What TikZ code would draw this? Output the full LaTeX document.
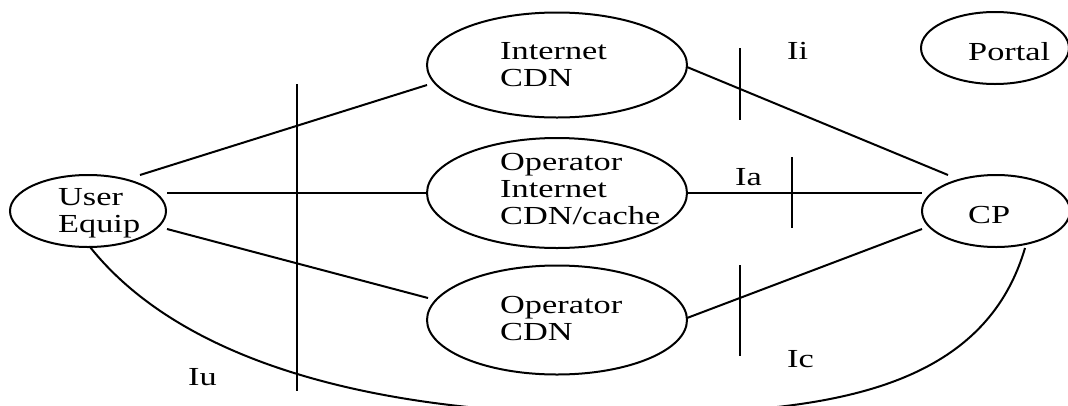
\documentclass[tikz,border=0pt]{standalone}
\usepackage{fontspec}
\setmainfont{Liberation Serif}[FakeStretch=1.32]
\usetikzlibrary{shapes.geometric}
\newcommand\txtlines[1]{\begin{tabular}[t]{@{}l@{}}#1\end{tabular}}
\begin{document}
\begin{tikzpicture}[x=1pt,y=-1pt,
  blob/.style={draw, ellipse, inner sep=0pt, line width=2pt},
  lbl/.style={inner sep=0pt, anchor=base west, font=\fontsize{26}{27}\selectfont},
  wire/.style={line width=2pt},
]
\fill[white] (0,0) rectangle (1068,405);
\useasboundingbox (0,0) rectangle (1068,405);
\clip (0,0) rectangle (1068,405);

% network elements
\node[blob, minimum width=156pt, minimum height=72pt]  (ue)     at (88,211)  {};
\node[blob, minimum width=260pt, minimum height=105pt] (icdn)   at (557,65)  {};
\node[blob, minimum width=260pt, minimum height=110pt] (oic)    at (557,193) {};
\node[blob, minimum width=260pt, minimum height=109pt] (ocdn)   at (557,320) {};
\node[blob, minimum width=148pt, minimum height=72pt]  (portal) at (995,48)  {};
\node[blob, minimum width=148pt, minimum height=72pt]  (cp)     at (996,211) {};

% element names
\node[lbl] (ue-t)     at (58,205)  {\txtlines{User\\Equip}};
\node[lbl] (icdn-t)   at (500,59)  {\txtlines{Internet\\CDN}};
\node[lbl] (oic-t)    at (500,170) {\txtlines{Operator\\Internet\\CDN/cache}};
\node[lbl] (ocdn-t)   at (500,313) {\txtlines{Operator\\CDN}};
\node[lbl] (portal-t) at (968,60)  {Portal};
\node[lbl] (cp-t)     at (968,223) {CP};

% links
\draw[wire] ([shift={(52,-36)}]ue.center) -- ([shift={(-130,20)}]icdn.center);
\draw[wire] ([shift={(79,-18)}]ue.center) -- ([shift={(-130,0)}]oic.center);
\draw[wire] ([shift={(79,18)}]ue.center)  -- ([shift={(-129,-22)}]ocdn.center);
\draw[wire] ([shift={(130,2)}]icdn.center) -- ([shift={(-48,-36)}]cp.center);
\draw[wire] ([shift={(131,0)}]oic.center)  -- ([shift={(-74,-18)}]cp.center);
\draw[wire] ([shift={(130,-2)}]ocdn.center) -- ([shift={(-74,18)}]cp.center);
\draw[wire] ([shift={(2,36)}]ue.center)
  .. controls (190,372) and (400,414) .. (610,414)
  .. controls (800,414) and (980,402) .. ([shift={(29,37)}]cp.center);

% interface boundaries
\draw[wire] (297,84)  -- (297,391);
\draw[wire] (740,48)  -- (740,120);
\draw[wire] (792,157) -- (792,228);
\draw[wire] (740,265) -- (740,356);

% interface names
\node[lbl] (ii) at (787,59)  {Ii};
\node[lbl] (ia) at (735,185) {Ia};
\node[lbl] (ic) at (787,367) {Ic};
\node[lbl] (iu) at (188,385) {Iu};
\end{tikzpicture}
\end{document}
